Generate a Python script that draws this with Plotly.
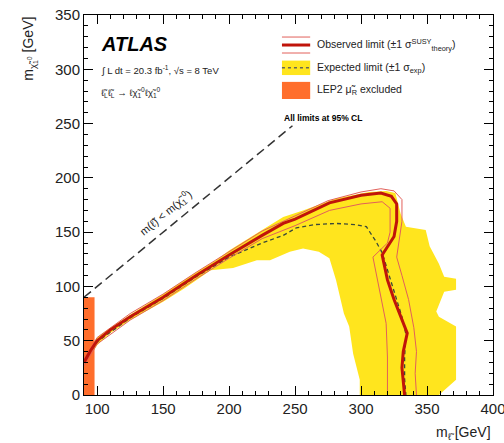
import plotly.graph_objects as go

# ---- data (GeV) ----
obs_x = [90, 95, 100, 110, 125, 150, 175, 200, 225, 241, 250, 276, 300, 315, 323, 327, 327, 325, 316, 320, 325, 329, 335, 332, 331, 333]
obs_y = [30, 41, 50, 60, 72, 90, 110, 129, 147, 158, 162, 177, 184, 186, 183, 176, 160, 146, 129, 106, 88, 75, 57, 40, 25, 0]

thup_x = [90, 100, 125, 150, 175, 200, 225, 250, 275, 300, 315, 325, 331, 331, 329, 327, 331, 336, 340, 342, 341, 342]
thup_y = [33, 53, 75, 93, 113, 132, 151, 165, 179, 187, 190, 188, 180, 160, 145, 127, 110, 88, 62, 40, 20, 0]

thdn_x = [90, 100, 125, 150, 175, 200, 225, 250, 276, 300, 316, 322, 322, 320, 309, 314, 319, 320, 320]
thdn_y = [27, 47, 69, 87, 107, 126, 144, 156, 170, 176, 178, 172, 150, 140, 127, 97, 66, 35, 0]

exp_x = [90, 100, 125, 150, 175, 200, 225, 241, 251, 265, 281, 295, 304, 311, 316, 320, 326, 331, 334, 333, 333, 334]
exp_y = [32, 49, 71, 89, 109, 127, 140, 147, 154, 157, 158, 157, 155, 142, 131, 115, 92, 72, 56, 35, 15, 0]

# +-1 sigma expected band outline (upper edge left->right, then inner edge back)
band_up_x = [90, 95, 100, 110, 125, 150, 175, 190, 200, 225, 241, 256, 281, 306, 319, 326, 330, 334, 349, 352, 359, 363, 372, 372, 363, 357, 359, 372, 372, 359]
band_up_y = [36, 45, 53, 62, 74, 93, 113, 124, 133, 152, 164, 170, 181, 187, 188, 186, 167, 155, 152, 137, 121, 109, 107, 97, 95, 77, 72, 63, 14, 0]
band_lo_x = [299, 299, 294, 291, 287, 281, 276, 268, 256, 246, 231, 221, 203, 186, 166, 150, 125, 110, 100, 95, 90]
band_lo_y = [0, 14, 38, 63, 75, 106, 126, 132, 135, 132, 124, 124, 117, 115, 98, 86, 69, 57, 46, 36, 28]

diag_x = [90, 248]
diag_y = [90, 248]

lep_x = [90, 98]
lep_y = [0, 90]

x_ticks = [100, 150, 200, 250, 300, 350, 400]
y_ticks = [0, 50, 100, 150, 200, 250, 300, 350]

FONT = "Liberation Sans, Arial, Helvetica, sans-serif"
YELLOW = "#ffe51e"
ORANGE = "#ff6e2c"
OBS = "#c0140a"
THEO = "#e2605a"

fig = go.Figure()

fig.add_trace(go.Scatter(
    x=band_up_x + band_lo_x, y=band_up_y + band_lo_y,
    fill="toself", fillcolor=YELLOW, line=dict(width=0),
    mode="lines", hoverinfo="skip", showlegend=False))

fig.add_trace(go.Scatter(x=lep_x + lep_x[::-1], y=[lep_y[0], lep_y[0], lep_y[1], lep_y[1]],
                         fill="toself", fillcolor=ORANGE, line=dict(width=0),
                         mode="lines", showlegend=False))

fig.add_trace(go.Scatter(x=diag_x, y=diag_y, mode="lines",
                         line=dict(color="#333333", width=1.5, dash="9px,5px"), showlegend=False))

fig.add_trace(go.Scatter(x=exp_x, y=exp_y, mode="lines",
                         line=dict(color="#3c4a3a", width=1.3, dash="4px,3px"), showlegend=False))

fig.add_trace(go.Scatter(x=thup_x, y=thup_y, mode="lines",
                         line=dict(color=THEO, width=1), showlegend=False))
fig.add_trace(go.Scatter(x=thdn_x, y=thdn_y, mode="lines",
                         line=dict(color=THEO, width=1), showlegend=False))
fig.add_trace(go.Scatter(x=obs_x, y=obs_y, mode="lines",
                         line=dict(color=OBS, width=3), showlegend=False))

axis_common = dict(
    ticks="inside", ticklen=9, tickwidth=1, tickcolor="black",
    showline=True, linecolor="black", linewidth=1, mirror="ticks",
    showgrid=False, zeroline=False, ticklabeloverflow="allow", automargin=False,
    tickfont=dict(family=FONT, size=15, color="#222222"),
    minor=dict(ticks="inside", ticklen=4, tickcolor="black", dtick=10, showgrid=False),
)

fig.update_layout(
    width=504, height=443,
    margin=dict(l=84, r=11, t=15, b=48),
    plot_bgcolor="white", paper_bgcolor="white",
    font=dict(family=FONT, color="black"),
    showlegend=False,
    xaxis=dict(range=[90, 400], tickvals=x_ticks, **axis_common),
    yaxis=dict(range=[0, 350], tickvals=y_ticks, **axis_common),
)

ann = []
def txt(x, y, s, size, xanchor="left", yanchor="middle", **kw):
    ann.append(dict(x=x, y=y, xref="paper", yref="paper", text=s, showarrow=False,
                    xanchor=xanchor, yanchor=yanchor,
                    font=dict(family=FONT, size=size, color=kw.pop("color", "#222222")), **kw))

txt(0.036, 0.923, "<b><i>ATLAS</i></b>", 20, color="black")
txt(0.036, 0.855, "∫ L dt = 20.3 fb<sup>-1</sup>, √s = 8 TeV", 9.5)
txt(0.036, 0.797, "ℓ\u0303<sub>L</sub>ℓ\u0303<sub>L</sub> → ℓχ\u0303<sub>1</sub><sup>0</sup>ℓχ\u0303<sub>1</sub><sup>0</sup>", 9.5)

txt(0.566, 0.921, "Observed limit (±1 σ<sup>SUSY</sup><sub>theory</sub>)", 10.5)
txt(0.566, 0.861, "Expected limit (±1 σ<sub>exp</sub>)", 10.5)
txt(0.566, 0.803, "LEP2 μ\u0303<sub>R</sub> excluded", 10.5)
txt(0.484, 0.729, "<b>All limits at 95% CL</b>", 8.5, color="black")

# diagonal label
ann.append(dict(x=152, y=168, xref="x", yref="y", text="m(ℓ\u0303) < m(χ\u0303<sub>1</sub><sup>0</sup>)",
                showarrow=False, textangle=-39.4,
                font=dict(family=FONT, size=11, color="#222222")))

# axis titles
txt(1.0, -0.072, "m<sub>ℓ\u0303</sub> [GeV]", 14, xanchor="right", yanchor="top")
ann.append(dict(x=-0.135, y=1.0, xref="paper", yref="paper", text="m<sub>χ\u0303<sub>1</sub><sup>0</sup></sub> [GeV]",
                showarrow=False, textangle=-90, xanchor="center", yanchor="top",
                font=dict(family=FONT, size=14, color="#222222")))
fig.update_layout(annotations=ann)

# legend samples
shapes = [
    dict(type="line", xref="paper", yref="paper", x0=0.484, x1=0.553, y0=0.942, y1=0.942, line=dict(color=THEO, width=1)),
    dict(type="line", xref="paper", yref="paper", x0=0.484, x1=0.553, y0=0.921, y1=0.921, line=dict(color=OBS, width=3)),
    dict(type="line", xref="paper", yref="paper", x0=0.484, x1=0.553, y0=0.900, y1=0.900, line=dict(color=THEO, width=1)),
    dict(type="rect", xref="paper", yref="paper", x0=0.484, x1=0.553, y0=0.842, y1=0.880, fillcolor=YELLOW, line=dict(width=0)),
    dict(type="line", xref="paper", yref="paper", x0=0.484, x1=0.553, y0=0.861, y1=0.861, line=dict(color="#666655", width=1.5, dash="dot")),
    dict(type="rect", xref="paper", yref="paper", x0=0.484, x1=0.553, y0=0.779, y1=0.824, fillcolor=ORANGE, line=dict(width=0)),
]
fig.update_layout(shapes=shapes)

fig.write_html("out.html", config={"displayModeBar": False},
               post_script="document.body.style.margin='0';document.body.style.overflow='hidden';")
